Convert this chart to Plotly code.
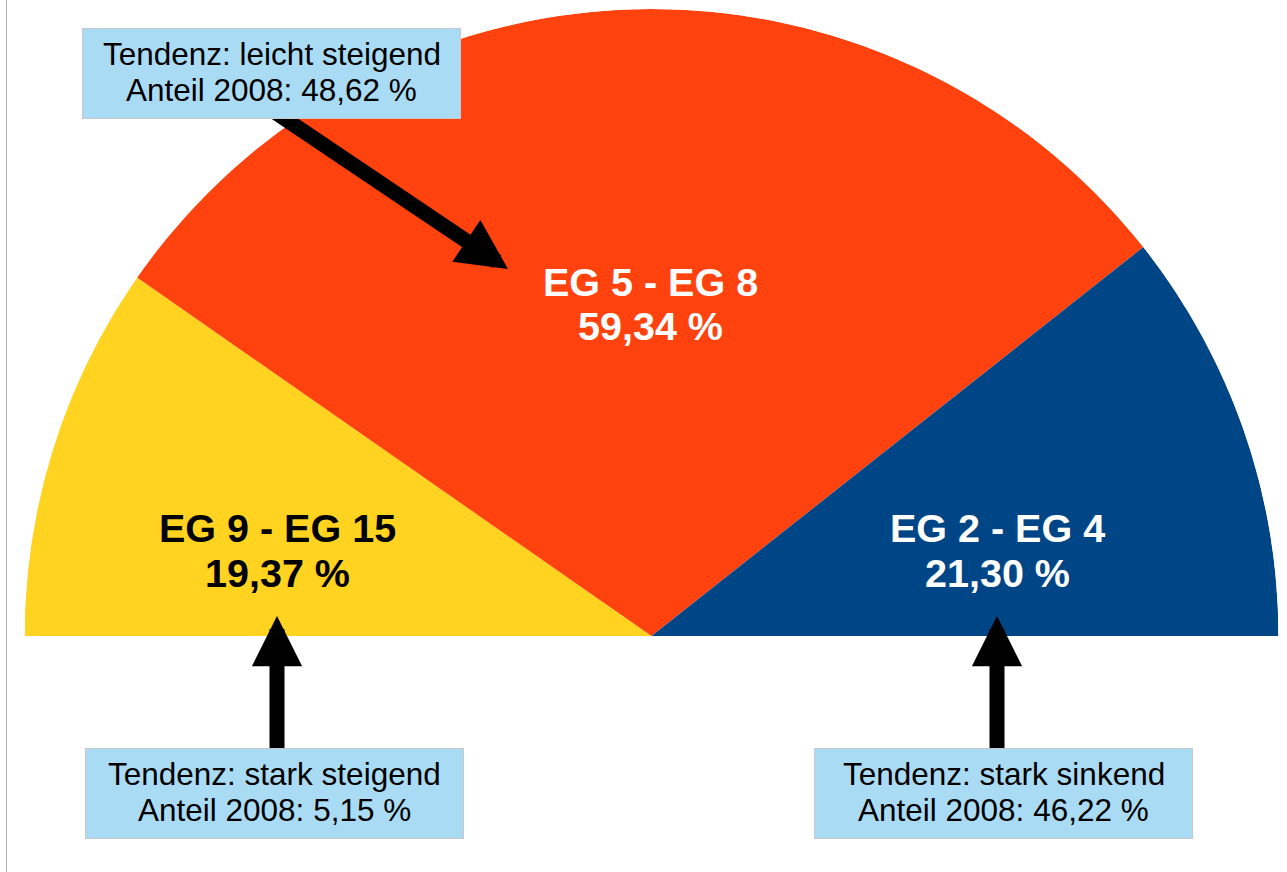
import plotly.graph_objects as go

W, H = 1287, 872

# ---- data ----
groups = ["EG 9 - EG 15", "EG 5 - EG 8", "EG 2 - EG 4"]
shares = [19.37, 59.34, 21.30]
trends = ["stark steigend", "leicht steigend", "stark sinkend"]
share_2008 = [5.15, 48.62, 46.22]

# ---- styles / layout positions (pixels) ----
colors = ["#ffd320", "#ff420e", "#004586"]
label_colors = ["#000000", "#ffffff", "#ffffff"]
label_pos = [(277.5, 528, 573), (650, 281.5, 326), (997.5, 528, 573)]
box_pos = [(274.5, 793.5), (271.5, 73), (1003.5, 793.5)]
arrow_tip = [(277, 616), (508, 269), (997, 616)]
arrow_tail = [(277, 770), (257, 100), (997, 770)]

FONT = "Liberation Sans, Arial, sans-serif"


def px(x):
    return x / W


def py(y):
    return 1 - y / H


def de(v):
    return f"{v:.2f}".replace(".", ",") + " %"


total = sum(shares)
widths = [s / total * 180 for s in shares]
mids = []
acc = 0
for w in widths:
    mids.append(acc + w / 2)
    acc += w

fig = go.Figure(
    go.Barpolar(
        r=[1] * len(shares),
        theta=mids,
        width=widths,
        marker=dict(color=colors, line=dict(width=0)),
        hoverinfo="skip",
        showlegend=False,
    )
)

annotations = []
# arrows first (drawn below boxes)
for (tx, ty), (sx, sy) in zip(arrow_tip, arrow_tail):
    annotations.append(dict(
        x=px(tx), y=py(ty), xref="paper", yref="paper",
        ax=sx - tx, ay=sy - ty, text="", showarrow=True,
        arrowhead=2, arrowsize=0.67, arrowwidth=15, arrowcolor="#000000",
        standoff=0,
    ))

# boxes
for (bx, by) in box_pos:
    annotations.append(dict(
        x=px(bx), y=py(by), xref="paper", yref="paper",
        text="", showarrow=False, width=377, height=89,
        bgcolor="#aadbf5", bordercolor="#c8c8c8", borderwidth=1, borderpad=0,
        xanchor="center", yanchor="middle",
    ))

# box texts
for (bx, by), tr, s08 in zip(box_pos, trends, share_2008):
    for dy, txt in ((-19.5, f"Tendenz: {tr}"), (16.5, f"Anteil 2008: {de(s08)}")):
        annotations.append(dict(
            x=px(bx), y=py(by + dy), xref="paper", yref="paper",
            text=txt, showarrow=False, xanchor="center", yanchor="middle",
            font=dict(family=FONT, size=31.5, color="#000000"),
        ))

# slice labels
for (lx, ly1, ly2), g, s, c in zip(label_pos, groups, shares, label_colors):
    for yy, txt in ((ly1, g), (ly2, de(s))):
        annotations.append(dict(
            x=px(lx), y=py(yy), xref="paper", yref="paper",
            text=f"<b>{txt}</b>", showarrow=False, xanchor="center", yanchor="middle",
            font=dict(family=FONT, size=39.5, color=c),
        ))

fig.update_layout(
    width=W, height=H,
    margin=dict(l=0, r=0, t=0, b=0),
    paper_bgcolor="#ffffff",
    plot_bgcolor="#ffffff",
    polar=dict(
        sector=[0, 180],
        domain=dict(x=[px(24), px(1279)], y=[py(636), py(9)]),
        bgcolor="rgba(0,0,0,0)",
        radialaxis=dict(visible=False, range=[0, 1]),
        angularaxis=dict(visible=False, rotation=180, direction="clockwise"),
    ),
    annotations=annotations,
    shapes=[dict(type="line", xref="paper", yref="paper",
                 x0=px(6.5), x1=px(6.5), y0=0, y1=1,
                 line=dict(color="#b4b4b4", width=1))],
)

fig.write_html("out.html")
